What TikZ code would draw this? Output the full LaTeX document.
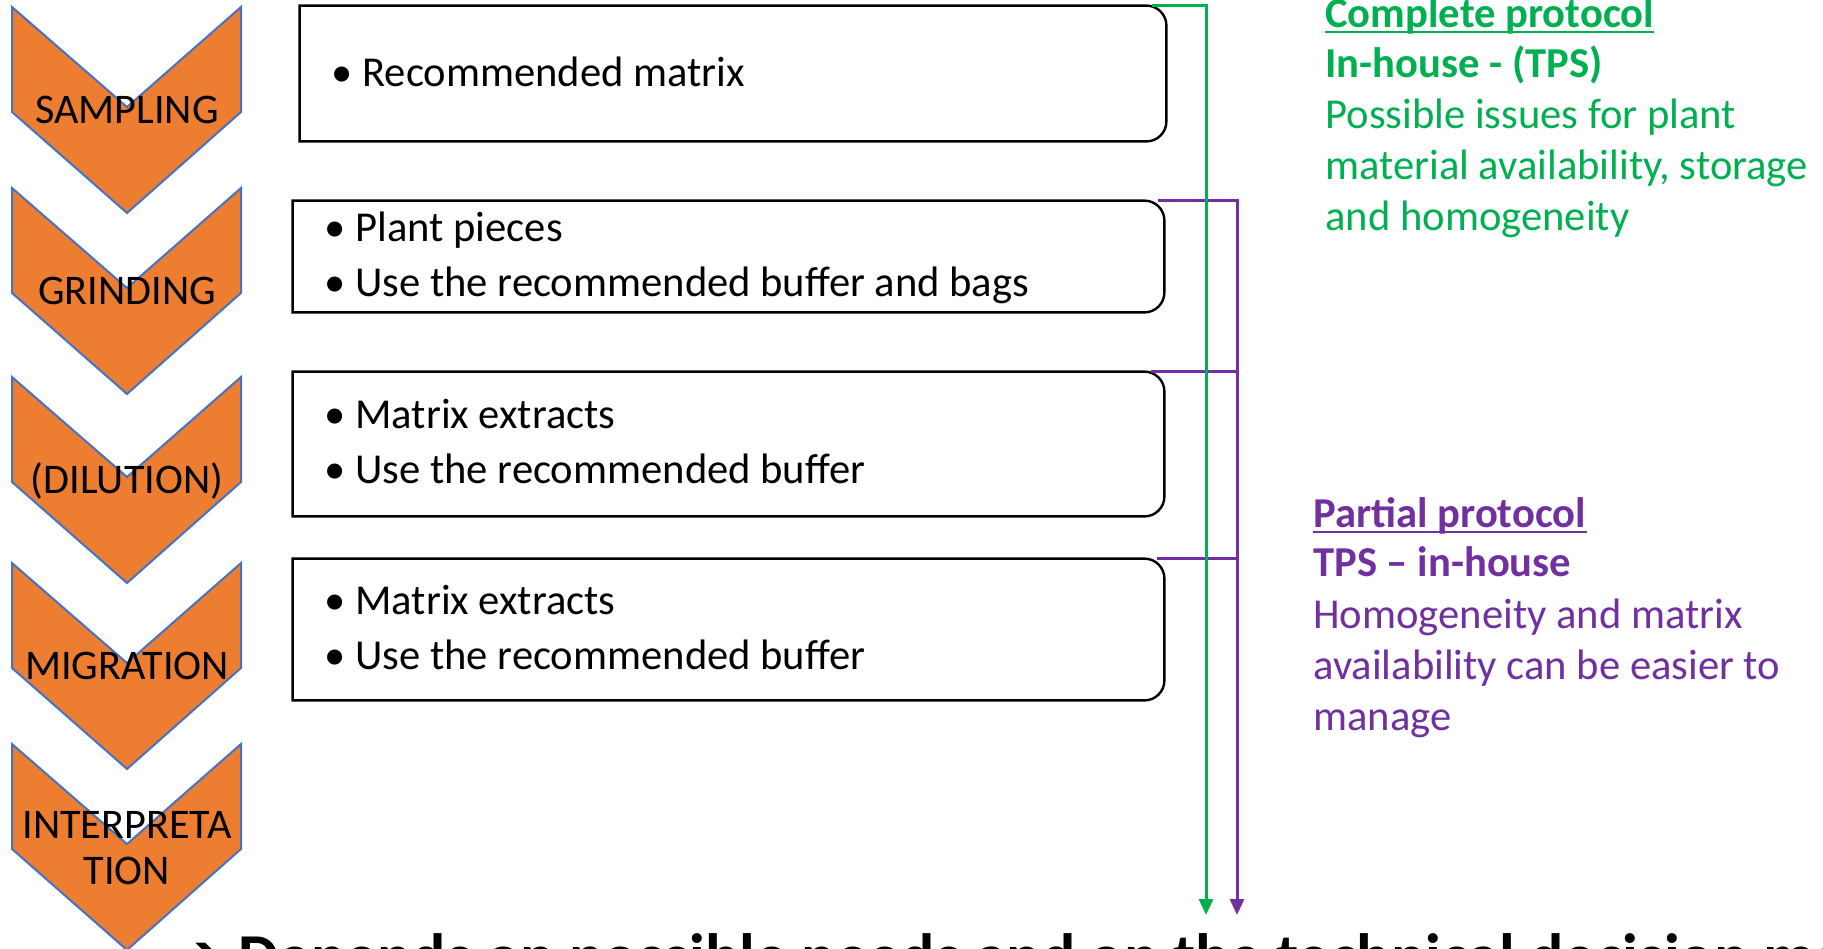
\documentclass[tikz,border=0pt]{standalone}
\usepackage{fontspec}
\setmainfont{Carlito}
\newfontfamily\symfont{DejaVu Sans}
\usetikzlibrary{arrows.meta}
\definecolor{stepfill}{HTML}{ED7D31}
\definecolor{stepedge}{HTML}{4472C4}
\definecolor{fullgreen}{HTML}{00B050}
\definecolor{partpurple}{HTML}{7030A0}

\begin{document}
\begin{tikzpicture}[x=0.5pt, y=-0.5pt,
	chevron/.style={fill=stepfill, draw=stepedge, line width=1pt},
	steplabel/.style={inner sep=0pt, anchor=base, font=\fontsize{21.1}{23}\selectfont},
	boxcell/.style={inner sep=0pt},
	boxline/.style={draw=black, line width=1.2pt},
	item/.style={inner sep=0pt, anchor=base west, font=\fontsize{21.3}{25}\selectfont},
	note/.style={inner sep=0pt, anchor=base west, font=\fontsize{21.3}{25}\selectfont},
	notebold/.style={note, font=\fontsize{21.3}{25}\selectfont\bfseries},
	greenlink/.style={draw=fullgreen, line width=1.5pt, -{Triangle[length=8pt,width=7pt]}},
	purplelink/.style={draw=partpurple, line width=1.5pt, -{Triangle[length=8pt,width=7pt]}},
	purpleline/.style={draw=partpurple, line width=1.5pt}]
		\path[use as bounding box] (0,0) rectangle (1823,948);
		\clip (0,0) rectangle (1823,948);
		% steps
		\draw[chevron] (12,7) -- (127,107) -- (241,7) -- (241,112) -- (127,213) -- (12,112) -- cycle;
		\draw[chevron] (12,188) -- (127,288) -- (241,188) -- (241,293) -- (127,394) -- (12,293) -- cycle;
		\draw[chevron] (12,377) -- (127,477) -- (241,377) -- (241,482) -- (127,583) -- (12,482) -- cycle;
		\draw[chevron] (12,563) -- (127,663) -- (241,563) -- (241,668) -- (127,769) -- (12,668) -- cycle;
		\draw[chevron] (12,744) -- (127,844) -- (241,744) -- (241,849) -- (127,950) -- (12,849) -- cycle;
		\node[steplabel] (sampling) at (127,123) {SAMPLING};
		\node[steplabel] (grinding) at (127,304) {GRINDING};
		\node[steplabel] (dilution) at (127,493) {(DILUTION)};
		\node[steplabel] (migration) at (127,679) {MIGRATION};
		\node[steplabel, anchor=center, align=center] (interpretation) at (127,848) {INTERPRETA\\TION};
		% boxes
		\node[boxcell, minimum width=433pt, minimum height=67.5pt] (matrixbox) at (733,73.5) {};
		\node[boxcell, minimum width=435.5pt, minimum height=55.5pt] (grindbox) at (728.5,256.5) {};
		\node[boxcell, minimum width=435.5pt, minimum height=72pt] (dilbox) at (728.5,444) {};
		\node[boxcell, minimum width=435.5pt, minimum height=70.5pt] (migbox) at (728.5,629.5) {};
		\draw[boxline] (matrixbox.north) [rounded corners=10pt] -- (matrixbox.north east) -- (matrixbox.south east) -- (matrixbox.south) [sharp corners] -- (matrixbox.south west) -- (matrixbox.north west) -- cycle;
		\draw[boxline] (grindbox.north) [rounded corners=10pt] -- (grindbox.north east) -- (grindbox.south east) -- (grindbox.south) [sharp corners] -- (grindbox.south west) -- (grindbox.north west) -- cycle;
		\draw[boxline] (dilbox.north) [rounded corners=10pt] -- (dilbox.north east) -- (dilbox.south east) -- (dilbox.south) [sharp corners] -- (dilbox.south west) -- (dilbox.north west) -- cycle;
		\draw[boxline] (migbox.north) [rounded corners=10pt] -- (migbox.north east) -- (migbox.south east) -- (migbox.south) [sharp corners] -- (migbox.south west) -- (migbox.north west) -- cycle;
		\node[item] (m1) at (331,86) {\makebox[15.5pt][l]{\textbullet}Recommended matrix};
		\node[item] (g1) at (324,241) {\makebox[15.5pt][l]{\textbullet}Plant pieces};
		\node[item] (g2) at (324,296) {\makebox[15.5pt][l]{\textbullet}Use the recommended buffer and bags};
		\node[item] (d1) at (324,428) {\makebox[15.5pt][l]{\textbullet}Matrix extracts};
		\node[item] (d2) at (324,483) {\makebox[15.5pt][l]{\textbullet}Use the recommended buffer};
		\node[item] (r1) at (324,614) {\makebox[15.5pt][l]{\textbullet}Matrix extracts};
		\node[item] (r2) at (324,669) {\makebox[15.5pt][l]{\textbullet}Use the recommended buffer};
		% protocols
		\coordinate (greenend) at (1206,915);
		\coordinate (purpleend) at (1237,915);
		\draw[purplelink] ([xshift=-3pt]grindbox.north east) -| (purpleend);
		\draw[purpleline] ([xshift=-6.5pt]dilbox.north east) -- (dilbox.north -| purpleend);
		\draw[purpleline] ([xshift=-3.5pt]migbox.north east) -- (migbox.north -| purpleend);
		\draw[greenlink] ([xshift=-7pt]matrixbox.north east) -| (greenend);
		\node[notebold, text=fullgreen] (c1) at (1325,27) {Complete protocol};
		\draw[fullgreen, line width=1.2pt] ([yshift=-2.5pt]c1.base west) -- ([yshift=-2.5pt]c1.base east);
		\node[notebold, text=fullgreen] (c2) at (1325,77) {In-house - (TPS)};
		\node[note, text=fullgreen] (c3) at (1325,128) {Possible issues for plant};
		\node[note, text=fullgreen] (c4) at (1325,179) {material availability, storage};
		\node[note, text=fullgreen] (c5) at (1325,230) {and homogeneity};
		\node[notebold, text=partpurple] (p1) at (1313,527) {Partial protocol};
		\draw[partpurple, line width=1.2pt] ([yshift=-2.5pt]p1.base west) -- ([yshift=-2.5pt]p1.base east);
		\node[notebold, text=partpurple] (p2) at (1313,576) {TPS – in-house};
		\node[note, text=partpurple] (p3) at (1313,628) {Homogeneity and matrix};
		\node[note, text=partpurple] (p4) at (1313,679) {availability can be easier to};
		\node[note, text=partpurple] (p5) at (1313,730) {manage};
		% remark, cut by the frame
		\node[inner sep=0pt, anchor=base west, font=\fontsize{32}{38}\selectfont\bfseries] (remark) at (170,978) {{\symfont ➔} Depends on possible needs and on the technical decision made};
\end{tikzpicture}
\end{document}
